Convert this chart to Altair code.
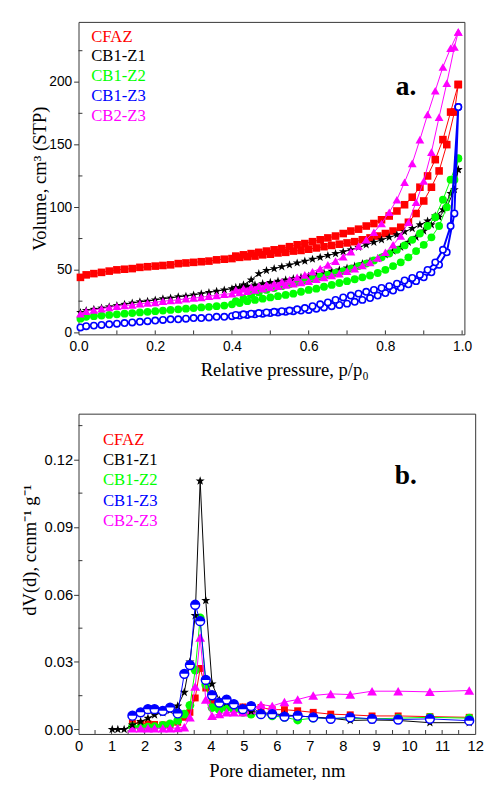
import altair as alt
import pandas as pd

SERIES = ["CFAZ", "CB1-Z1", "CB1-Z2", "CB1-Z3", "CB2-Z3"]
COLORS = ["#ff0000", "#000000", "#00ff00", "#0000ff", "#ff00ff"]

# ---------------- panel a: N2 isotherms ----------------
P_ADS = [0.005, 0.02, 0.04, 0.06, 0.08, 0.10, 0.12, 0.14, 0.16, 0.18, 0.20, 0.22, 0.24,
         0.26, 0.28, 0.30, 0.32, 0.34, 0.36, 0.38, 0.40, 0.42, 0.44, 0.46, 0.48, 0.50,
         0.52, 0.54, 0.56, 0.58, 0.60, 0.62, 0.64, 0.66, 0.68, 0.70, 0.72, 0.74, 0.76,
         0.78, 0.80, 0.82, 0.84, 0.86, 0.88, 0.90, 0.92, 0.94, 0.96, 0.98, 0.99]
P_DES = [0.99, 0.97, 0.95, 0.93, 0.91, 0.89, 0.87, 0.85, 0.83, 0.81, 0.79, 0.77, 0.75,
         0.73, 0.71, 0.69, 0.67, 0.65, 0.63, 0.61, 0.59, 0.57, 0.55, 0.53, 0.51, 0.49,
         0.47, 0.45, 0.43, 0.41]

V_ADS = {
    "CFAZ": [44, 46, 47, 48, 49, 50, 50.5, 51, 52, 52.5, 53, 53.5, 54, 55, 55.5, 56, 56.5,
             57, 58, 58.5, 59, 60, 60.5, 61, 62, 62.5, 63.5, 64, 65, 65.5, 66.5, 67.5, 68.5,
             69.5, 70.5, 71.5, 72.5, 74, 75.5, 77, 79, 81, 84, 88, 95, 105, 116, 129, 150,
             176, 198],
    "CB1-Z1": [16, 17.5, 18.5, 19.5, 20.5, 21.5, 22.5, 23.5, 24.5, 25, 26, 27, 27.5, 28.5,
               29, 30, 31, 32, 33, 34, 35, 36, 37, 38, 39, 40, 41, 42, 43, 44, 45, 46, 47.5,
               49, 50, 51.5, 53, 55, 57, 59, 62, 65, 68, 72, 76, 81, 86, 92, 100, 114, 130],
    "CB1-Z2": [11, 12.5, 13, 13.5, 14, 14.5, 15, 15.5, 16, 16.5, 17, 17.5, 18, 18.5, 19,
               19.5, 20, 20.5, 21, 21.5, 22.5, 23.5, 25, 26, 27, 28, 29, 30, 31, 32.5, 34,
               35, 36.5, 38, 39.5, 41, 42.5, 44, 45.5, 47.5, 50, 53, 56, 60, 65, 70, 76, 85,
               100, 122, 139],
    "CB1-Z3": [4, 5, 5.5, 6, 6.5, 7, 7.5, 8, 8.5, 9, 9.5, 10, 10.5, 10.5, 11, 11.5, 11.5,
               12, 12.5, 12.5, 13, 13.5, 14, 14.5, 15, 15.5, 16, 16.5, 17, 17.5, 18, 19, 20,
               21, 22, 23, 24.5, 26, 27.5, 29.5, 31.5, 33.5, 36, 38.5, 41, 44, 48, 54, 64,
               95, 180],
    "CB2-Z3": [15, 17, 18, 19, 20, 21, 21.5, 22, 23, 23.5, 24, 25, 25.5, 26, 27, 27.5, 28,
               29, 29.5, 30.5, 31, 32, 33, 34, 35, 36, 37, 38, 39, 40, 41, 42.5, 44, 45.5,
               47, 49, 51, 53.5, 56, 59.5, 64, 70, 77, 88, 104, 121, 144, 172, 199, 228, 240],
}
V_DES = {
    "CFAZ": [198, 176, 154, 138, 125, 116, 108, 102, 97, 93, 90, 87, 85, 82.5, 81, 79, 77,
             75.5, 74, 72.5, 71, 70, 68.5, 67, 66, 65, 64, 63, 62, 61],
    "CB1-Z1": [130, 111, 98, 93, 89, 86, 83, 80.5, 78, 76, 74, 72, 70, 68, 66, 64.5, 63,
               61.5, 60, 58.5, 57, 55.5, 54, 52.5, 51, 49.5, 47, 42, 38, 36],
    "CB1-Z2": [139, 122, 106, 92, 85, 79, 74, 69.5, 66, 63, 60, 57.5, 55, 53, 51, 49, 47.5,
               46, 44.5, 43, 41.5, 40, 38.5, 37, 35.5, 34, 32, 30, 27, 25],
    "CB1-Z3": [180, 85, 66, 56, 50, 46, 43.5, 41.5, 39, 37, 35.5, 34, 32.5, 31, 29.5, 28,
               26, 24, 22.5, 21, 19.5, 18.5, 17.5, 17, 16.5, 16, 15.5, 15, 14.5, 14],
    "CB2-Z3": [240, 227, 212, 193, 174, 154, 135, 120, 106, 96, 87, 80, 74, 69, 64.5, 60.5,
               57, 54, 51, 48.5, 46, 44, 42, 40.5, 39, 38, 37, 36, 35, 34],
}

# ---------------- panel b: pore size distribution ----------------
D_NM = [1.02, 1.19, 1.38, 1.63, 1.88, 2.10, 2.30, 2.55, 2.77, 3.00, 3.20, 3.37, 3.53, 3.68,
        3.85, 4.04, 4.26, 4.48, 4.70, 4.97, 5.22, 5.52, 5.86, 6.23, 6.63, 7.10, 7.63, 8.22,
        8.88, 9.67, 10.63, 11.82]
DV = {
    "CFAZ": [None, None, None, 0.0030, 0.0027, 0.0025, 0.0022, 0.0020, 0.0022, 0.0032,
             0.0054, 0.0076, 0.0140, 0.0271, 0.0184, 0.0126, 0.0115, 0.0110, 0.0105, 0.0100,
             0.0105, 0.0097, 0.0088, 0.0088, 0.0083, 0.0076, 0.0068, 0.0065, 0.0060, 0.0060,
             0.0057, 0.0054],
    "CB1-Z1": [0.0, 0.0, 0.0, 0.0020, 0.0035, 0.0050, 0.0065, 0.0075, 0.0085, 0.0104, 0.0165,
               0.0300, 0.0506, 0.1104, 0.0573, 0.0202, 0.0130, 0.0120, 0.0110, 0.0095, 0.0080,
               0.0075, 0.0070, 0.0065, 0.0060, 0.0055, 0.0050, 0.0040, 0.0042, 0.0040, 0.0030,
               0.0030],
    "CB1-Z2": [None, None, None, 0.0012, 0.0010, 0.0010, 0.0012, 0.0018, 0.0025, 0.0039,
               0.0068, 0.0107, 0.0264, 0.0496, 0.0199, 0.0097, 0.0088, 0.0097, 0.0088, 0.0076,
               0.0068, 0.0068, 0.0060, 0.0054, 0.0042, 0.0050, 0.0050, 0.0050, 0.0047, 0.0050,
               0.0054, 0.0050],
    "CB1-Z3": [None, None, None, 0.0061, 0.0076, 0.0090, 0.0090, 0.0083, 0.0097, 0.0071,
               0.0247, 0.0286, 0.0554, 0.0481, 0.0220, 0.0152, 0.0119, 0.0133, 0.0112, 0.0090,
               0.0104, 0.0068, 0.0068, 0.0057, 0.0061, 0.0054, 0.0047, 0.0054, 0.0047, 0.0044,
               0.0047, 0.0039],
    "CB2-Z3": [None, None, None, 0.0005, 0.0005, 0.0005, 0.0005, 0.0005, 0.0005, 0.0006,
               0.0010, 0.0054, 0.0191, 0.0409, 0.0133, 0.0061, 0.0069, 0.0076, 0.0076, 0.0076,
               0.0086, 0.0110, 0.0104, 0.0122, 0.0133, 0.0151, 0.0158, 0.0155, 0.0170, 0.0170,
               0.0167, 0.0173],
}

YA_MAJOR = [0, 50, 100, 150, 200]
YA_MINOR = [25, 75, 125, 175, 225]
XA_LABELS = [0.0, 0.2, 0.4, 0.6, 0.8, 1.0]
XA_TICKS = [0.1, 0.2, 0.3, 0.4, 0.5, 0.6, 0.7, 0.8, 0.9, 1.0]
YB_MAJOR = [0.0, 0.03, 0.06, 0.09, 0.12]
YB_MINOR = [0.015, 0.045, 0.075, 0.105, 0.135]
XB_LABELS = [0, 1, 2, 3, 4, 5, 6, 7, 8, 9, 10, 11, 12]
XB_TICKS = [0.5, 1, 1.5, 2, 2.5, 3, 3.5, 4, 4.5, 5, 5.5, 6, 6.5, 7, 7.5, 8, 8.5, 9, 9.5,
            10, 10.5, 11, 11.5]

for s in SERIES:
    assert len(V_ADS[s]) == len(P_ADS), s
    assert len(V_DES[s]) == len(P_DES), s
    assert len(DV[s]) == len(D_NM), s

SERIF = "Liberation Serif"
SANS = "Liberation Sans"
FR = "#333333"
STAR = ("M0,-1L0.235,-0.324L0.951,-0.309L0.38,0.124L0.588,0.809L0,0.4L-0.588,0.809"
        "L-0.38,0.124L-0.951,-0.309L-0.235,-0.324Z")
TOP_HALF = "M-1,0A1,1 0 0,1 1,0Z"

WA, HA = 394, 319
WB, HB = 405, 327

common = dict(grid=False, domain=False, labelColor="black", titleColor="black",
              titleFont=SERIF, titleFontWeight="normal", titleFontSize=19, labelFont=SANS)

# ---------- panel a ----------
xa_scale = alt.Scale(domain=[0, 1.006], nice=False, zero=False)
ya_scale = alt.Scale(domain=[-1.5, 248], nice=False, zero=False)
xa_axis = alt.Axis(values=XA_LABELS, format=".1f", ticks=False, labelFontSize=14,
                   labelPadding=5, labelFlush=False, labelOverlap=False,
                   title="Relative pressure, p/p₀", titleX=WA / 2 + 13, titleY=42,
                   titleAlign="center", titleBaseline="alphabetic", **common)
ya_axis = alt.Axis(values=YA_MAJOR, format="d", tickSize=5, tickColor=FR, labelFontSize=14,
                   labelPadding=2, title="Volume, cm³ (STP)", titleX=-40, titleY=HA / 2,
                   titleAlign="center", titleBaseline="middle", **common)


def XA(f):
    return alt.X(f"{f}:Q", scale=xa_scale, axis=xa_axis)


def YA(f):
    return alt.Y(f"{f}:Q", scale=ya_scale, axis=ya_axis)


layers_a = [
    alt.Chart(pd.DataFrame({"t": YA_MINOR})).mark_rule(color=FR).encode(
        y=YA("t"), x=alt.value(0), x2=alt.value(4)),
    alt.Chart(pd.DataFrame({"t": XA_TICKS})).mark_rule(color=FR).encode(
        x=XA("t"), y=alt.value(HA - 4), y2=alt.value(HA)),
]
SHAPE_A = {"CFAZ": "square", "CB1-Z1": STAR, "CB1-Z2": "circle", "CB2-Z3": "triangle-up"}
SIZE_A = {"CFAZ": 60, "CB1-Z1": 85, "CB1-Z2": 64, "CB2-Z3": 80}
for s, c in zip(SERIES, COLORS):
    df = pd.DataFrame({"p": P_ADS + P_DES, "v": V_ADS[s] + V_DES[s]})
    df["k"] = list(range(len(df)))
    base = alt.Chart(df).encode(x=XA("p"), y=YA("v"))
    line = base.mark_line(color=c, strokeWidth=2 if s == "CB1-Z3" else 1).encode(order="k:Q")
    if s == "CB1-Z3":
        pts = base.mark_point(shape="circle", filled=True, fill="white", stroke=c,
                              strokeWidth=1.6, size=42, opacity=1)
    else:
        pts = base.mark_point(shape=SHAPE_A[s], filled=True, color=c, size=SIZE_A[s],
                              opacity=1)
    layers_a += [line, pts]

for i, (s, c) in enumerate(zip(SERIES, COLORS)):
    layers_a.append(
        alt.Chart(pd.DataFrame({"s": [s]})).mark_text(
            align="left", baseline="middle", font=SERIF, fontSize=17, color=c
        ).encode(text="s:N", x=alt.value(13), y=alt.value(15 + 20.3 * i)))
layers_a.append(
    alt.Chart(pd.DataFrame({"s": ["a."]})).mark_text(
        align="left", baseline="alphabetic", font=SERIF, fontSize=28, fontWeight="bold",
        color="black").encode(text="s:N", x=alt.value(324), y=alt.value(75)))

panel_a = alt.layer(*layers_a).properties(width=WA, height=HA)

# ---------- panel b ----------
xb_scale = alt.Scale(domain=[0, 12], nice=False, zero=False)
yb_scale = alt.Scale(domain=[-0.002, 0.1403], nice=False, zero=False)
xb_axis = alt.Axis(values=XB_LABELS, format="d", ticks=False, labelFontSize=15,
                   labelPadding=5, labelFlush=False, labelOverlap=False,
                   title="Pore diameter, nm", titleY=43, titleAlign="center",
                   titleBaseline="alphabetic", **common)
yb_axis = alt.Axis(values=YB_MAJOR, format=".2f", tickSize=5, tickColor=FR, labelFontSize=15,
                   labelPadding=1, title="dV(d), ccnm⁻¹ g⁻¹", titleX=-50, titleY=139,
                   titleAlign="center", titleBaseline="middle", **common)


def XB(f):
    return alt.X(f"{f}:Q", scale=xb_scale, axis=xb_axis)


def YB(f):
    return alt.Y(f"{f}:Q", scale=yb_scale, axis=yb_axis)


layers_b = [
    alt.Chart(pd.DataFrame({"t": YB_MINOR})).mark_rule(color=FR).encode(
        y=YB("t"), x=alt.value(0), x2=alt.value(4)),
    alt.Chart(pd.DataFrame({"t": XB_TICKS})).mark_rule(color=FR).encode(
        x=XB("t"), y=alt.value(HB - 4), y2=alt.value(HB)),
]
SHAPE_B = {"CFAZ": "square", "CB1-Z1": STAR, "CB1-Z2": "circle", "CB2-Z3": "triangle-up"}
SIZE_B = {"CFAZ": 50, "CB1-Z1": 95, "CB1-Z2": 81, "CB2-Z3": 100}
ORDER_B = ["CFAZ", "CB1-Z2", "CB2-Z3", "CB1-Z1", "CB1-Z3"]
CMAP = dict(zip(SERIES, COLORS))
for s in ORDER_B:
    c = CMAP[s]
    df = pd.DataFrame({"d": D_NM, "v": DV[s]}).dropna()
    base = alt.Chart(df).encode(x=XB("d"), y=YB("v"))
    layers_b.append(base.mark_line(color=c, strokeWidth=1))
    if s == "CB1-Z3":
        layers_b.append(base.mark_point(shape="circle", filled=True, fill="white", stroke=c,
                                        strokeWidth=1.5, size=81, opacity=1))
        layers_b.append(base.mark_point(shape=TOP_HALF, filled=True, color=c, size=81,
                                        opacity=1))
    else:
        layers_b.append(base.mark_point(shape=SHAPE_B[s], filled=True, color=c,
                                        size=SIZE_B[s], opacity=1))

for i, (s, c) in enumerate(zip(SERIES, COLORS)):
    layers_b.append(
        alt.Chart(pd.DataFrame({"s": [s]})).mark_text(
            align="left", baseline="middle", font=SERIF, fontSize=17, color=c
        ).encode(text="s:N", x=alt.value(25), y=alt.value(27 + 20.6 * i)))
layers_b.append(
    alt.Chart(pd.DataFrame({"s": ["b."]})).mark_text(
        align="left", baseline="alphabetic", font=SERIF, fontSize=28, fontWeight="bold",
        color="black").encode(text="s:N", x=alt.value(323), y=alt.value(72)))

panel_b = alt.layer(*layers_b).properties(width=WB, height=HB)

chart = alt.vconcat(panel_a, panel_b, spacing=81, bounds="flush").properties(
    padding={"left": 12, "top": 5, "right": 0, "bottom": 0},
    background="white",
).configure_view(stroke=FR, strokeWidth=1)

chart.save("out.html", embed_options={"renderer": "svg", "actions": False})
